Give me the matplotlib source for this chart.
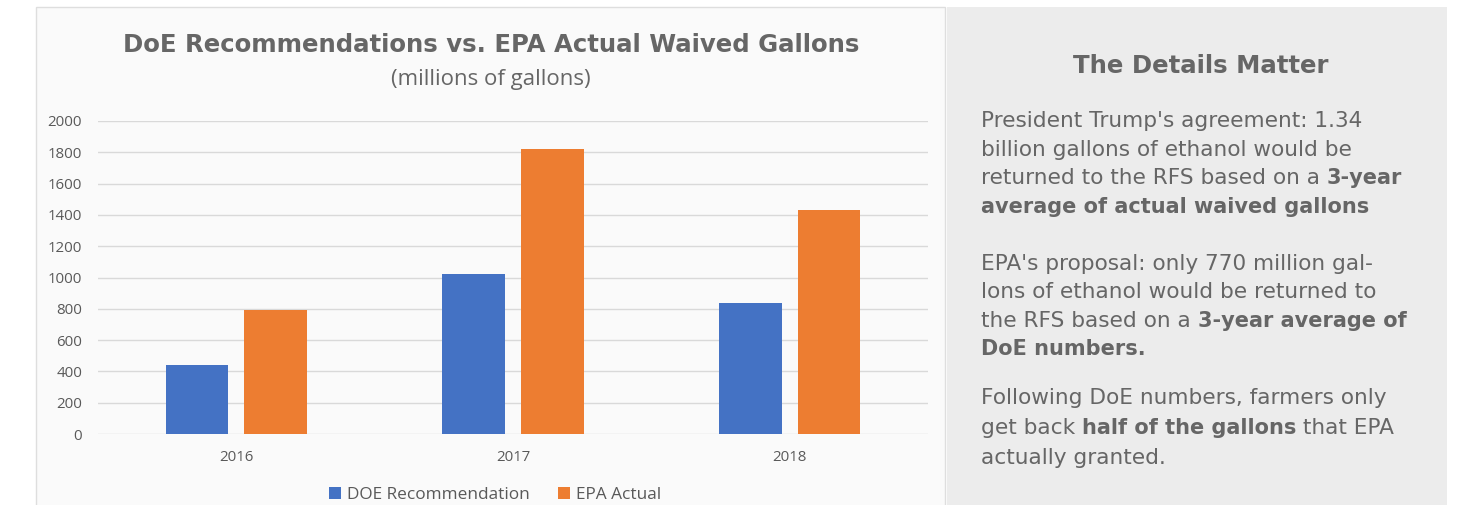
import matplotlib
matplotlib.use("Agg")
import matplotlib.pyplot as plt
from matplotlib.patches import Rectangle
import numpy as np

W, H = 1457, 505

years = ["2016", "2017", "2018"]
doe_rec = [440, 1020, 840]
epa_actual = [790, 1820, 1430]
series_names = ["DOE Recommendation", "EPA Actual"]
yticks = list(range(0, 2001, 200))

title = "DoE Recommendations vs. EPA Actual Waived Gallons"
subtitle = "(millions of gallons)"
side_title = "The Details Matter"
# each line is a list of (text, bold) pieces
side_lines = [
    [("President Trump's agreement: 1.34", False)],
    [("billion gallons of ethanol would be", False)],
    [("returned to the RFS based on a ", False), ("3-year", True)],
    [("average of actual waived gallons", True)],
    None,
    [("EPA's proposal: only 770 million gal-", False)],
    [("lons of ethanol would be returned to", False)],
    [("the RFS based on a ", False), ("3-year average of", True)],
    [("DoE numbers.", True)],
    None,
    [("Following DoE numbers, farmers only", False)],
    [("get back ", False), ("half of the gallons", True), (" that EPA", False)],
    [("actually granted.", False)],
]

BLUE = "#4472C4"
ORANGE = "#ED7D31"
GREY_TXT = "#666666"
TICK_TXT = "#595959"


def fx(px):
    return px / W


def fy(py):
    return 1 - py / H


fig = plt.figure(figsize=(W / 100, H / 100), dpi=100, facecolor="white")

# background panels (drawn under the axes)
fig.patches.append(Rectangle((fx(36), fy(506)), fx(945) - fx(36), fy(7) - fy(506),
                             transform=fig.transFigure, facecolor="#fafafa",
                             edgecolor="#dedede", linewidth=1, zorder=-2))
fig.patches.append(Rectangle((fx(947), fy(506)), fx(1447) - fx(947), fy(7) - fy(506),
                             transform=fig.transFigure, facecolor="#ececec",
                             edgecolor="none", zorder=-2))

ax = fig.add_axes([fx(98), fy(434), fx(928) - fx(98), fy(121) - fy(434)])
ax.set_facecolor("none")
x = np.arange(len(years))
bw = 0.226
off = 0.142
ax.bar(x - off, doe_rec, bw, color=BLUE, label=series_names[0], zorder=3)
ax.bar(x + off, epa_actual, bw, color=ORANGE, label=series_names[1], zorder=3)
ax.set_xlim(-0.5, 2.5)
ax.set_ylim(0, 2000)
ax.set_yticks(yticks)
ax.set_xticks(x)
ax.set_xticklabels(years)
ax.grid(axis="y", color="#d9d9d9", linewidth=1, zorder=0)
ax.set_axisbelow(True)
for s in ax.spines.values():
    s.set_visible(False)
ax.tick_params(length=0, labelsize=10.8, labelcolor=TICK_TXT)
ax.tick_params(axis="y", pad=11.5)
ax.tick_params(axis="x", pad=11.5)
for lab in ax.get_xticklabels() + ax.get_yticklabels():
    lab.set_fontfamily("Open Sans")

leg = ax.legend(loc="center", bbox_to_anchor=(fx(495), fy(495)),
                bbox_transform=fig.transFigure, ncol=2, frameon=False,
                handlelength=0.7, handleheight=0.7, handletextpad=0.35,
                columnspacing=1.6, prop={"family": "Open Sans", "size": 12.4})
for t in leg.get_texts():
    t.set_color(TICK_TXT)

fig.text(fx(491), fy(45), title, ha="center", va="center", fontsize=17.6,
         fontweight="bold", color=GREY_TXT, family="DejaVu Sans")
fig.text(fx(491), fy(80), subtitle, ha="center", va="center", fontsize=16,
         color=GREY_TXT, family="Open Sans")

fig.text(fx(1201), fy(66), side_title, ha="center", va="center", fontsize=17.6,
         fontweight="bold", color=GREY_TXT, family="DejaVu Sans")

renderer = fig.canvas.get_renderer()
baselines = [127, 156, 184, 213, None, 270, 298, 327, 355, None, 404, 434, 464]
for line, base in zip(side_lines, baselines):
    if line is None:
        continue
    cur = 981
    for txt, bold in line:
        t = fig.text(fx(cur), fy(base), txt, ha="left", va="baseline",
                     fontsize=15 if bold else 15.6,
                     fontweight="bold" if bold else "normal", color=GREY_TXT,
                     family="DejaVu Sans")
        bb = t.get_window_extent(renderer)
        cur = bb.x1

fig.savefig("out.png", dpi=100, facecolor="white")
